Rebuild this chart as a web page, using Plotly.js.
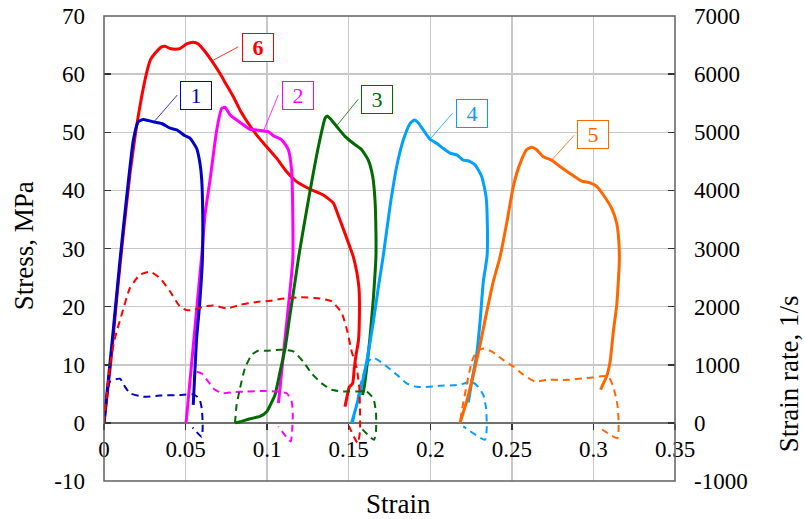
<!DOCTYPE html>
<html>
<head>
<meta charset="utf-8">
<script src="https://cdn.plot.ly/plotly-3.0.1.min.js"></script>
<style>html,body{margin:0;padding:0;background:#fff;}#chart{width:805px;height:519px;}</style>
</head>
<body>
<div id="chart"></div>
<script>
// ---- Data (strain, stress MPa) for solid curves ----
var s1x = [0,0.005,0.0098,0.0139,0.018,0.021,0.0241,0.0302,0.0353,0.0405,0.0446,0.0497,0.0527,0.0568,0.0588,0.0599,0.0605,0.0603,0.0585,0.0568,0.0547];
var s1y = [0,14,28,38.9,48.7,51.8,52.2,51.8,51.5,50.7,50.4,49.4,49.0,47.2,44.7,41.8,36.1,28.0,20,14.6,3.1];

var s2x = [0.0503,0.0598,0.062,0.065,0.0691,0.0721,0.0742,0.0772,0.0813,0.0854,0.0895,0.0936,0.0977,0.1007,0.1038,0.1089,0.113,0.115,0.1157,0.1157,0.111,0.1079,0.1069];
var s2y = [0,28.5,36,41.8,50.4,54.1,54.3,53.0,52.1,51.3,50.5,50.4,50.2,50.1,49.4,48.7,47.0,43.5,36.1,28.0,14.6,6.0,3.4];

var s3x = [0.0803,0.0834,0.0895,0.0956,0.0997,0.1018,0.1048,0.1079,0.111,0.114,0.1171,0.1194,0.1242,0.1283,0.1314,0.1355,0.1369,0.1385,0.1426,0.1477,0.1528,0.158,0.162,0.1647,0.1661,0.1667,0.1667,0.1661,0.1651,0.163,0.161,0.1594,0.1585];
var s3y = [0,0.2,0.7,1.1,1.9,3.0,4.8,8.8,12.8,18.6,24.3,28.7,36.6,43.0,47.5,52.4,52.8,52.4,51.0,49.3,48.1,47.0,45.2,42.4,38.4,32.6,28.7,25.5,21.4,14.6,9.4,6.0,4.8];

var s4x = [0.1518,0.1549,0.158,0.161,0.1651,0.1681,0.1712,0.1753,0.1794,0.1835,0.1876,0.1902,0.1927,0.1957,0.1998,0.2039,0.208,0.2121,0.2162,0.2202,0.2233,0.2274,0.2315,0.2342,0.235,0.2348,0.2325,0.2305,0.2284,0.2254,0.2233];
var s4y = [0,3.1,6.5,10.5,17.4,23.2,28.8,37.2,44.1,48.7,51.5,52.1,51.6,50.4,48.8,48.1,47.2,46.4,46.1,45.2,45.1,44.4,42.4,38.9,33.8,28.7,24.3,17.4,11.7,7.1,3.5];

var s5x = [0.2182,0.2223,0.2264,0.2305,0.2346,0.2386,0.2427,0.2468,0.2509,0.255,0.2591,0.2622,0.2652,0.2693,0.2744,0.2795,0.2856,0.2928,0.2979,0.302,0.3061,0.3112,0.3143,0.3155,0.3159,0.3143,0.3122,0.3102,0.3081,0.3056,0.3044];
var s5y = [0,3.7,8.3,13.4,19.1,24.3,28.5,34.3,40.7,44.6,47.0,47.4,47.0,45.8,45.2,44.1,42.9,41.6,41.3,40.7,39.2,36.9,34.3,31.5,28.0,20.3,15.7,10.5,8.0,6.5,5.7];

var s6x = [0,0.004,0.008,0.012,0.016,0.0196,0.023,0.026,0.0285,0.0313,0.0353,0.0374,0.0405,0.0435,0.0466,0.0507,0.0548,0.0578,0.0619,0.067,0.0711,0.0752,0.0793,0.0834,0.0885,0.0936,0.0997,0.1059,0.112,0.1181,0.1263,0.1344,0.1406,0.1437,0.1477,0.1528,0.1549,0.1563,0.1565,0.1559,0.1545,0.1534,0.1524,0.1504,0.1492,0.1477];
var s6y = [0,10,22,33,43,50.4,56,60.1,62.5,63.6,64.7,64.8,64.4,64.3,64.4,65.2,65.5,65.2,63.9,61.9,60.1,58.1,56.1,53.8,51.5,49.5,47.5,45.5,43.2,41.5,40.2,39.2,37.8,35.6,32.6,28.6,26.0,23.2,17.4,14.0,11.7,9.4,6.8,6.2,4.8,2.8];

// ---- Data (strain, strain rate 1/s) for dashed curves ----
var r1x = [0,0.0037,0.0098,0.0129,0.0159,0.0241,0.0343,0.0466,0.0547,0.0584,0.0599,0.0605,0.0599,0.0543];
var r1y = [0,710,760,620,510,450,470,480,490,420,250,-30,-240,-80];

var r2x = [0.0568,0.0599,0.0639,0.068,0.0731,0.0793,0.0875,0.0977,0.1058,0.112,0.115,0.1157,0.1154,0.1144,0.1069];
var r2y = [880,850,710,570,510,530,540,550,540,510,370,140,-90,-320,-60];

var r3x = [0.0803,0.0813,0.0834,0.0864,0.0905,0.0946,0.0997,0.1079,0.116,0.1222,0.1273,0.1334,0.1396,0.1467,0.1549,0.161,0.1651,0.1667,0.1667,0.1655,0.1569];
var r3y = [0,310,600,940,1170,1240,1240,1260,1230,1050,850,680,570,540,540,540,420,190,-150,-290,-70];

var r4x = [0.1525,0.1539,0.1559,0.158,0.161,0.1641,0.1681,0.1733,0.1794,0.1855,0.1916,0.1988,0.206,0.2162,0.2213,0.2254,0.2294,0.2325,0.2342,0.2346,0.2335,0.2202];
var r4y = [0,170,480,740,1000,1120,1080,970,830,680,620,620,640,650,680,710,620,480,250,-90,-290,-60];

var r5x = [0.2185,0.2192,0.2223,0.2254,0.2284,0.2325,0.2376,0.2448,0.2509,0.257,0.2642,0.2713,0.2836,0.2959,0.304,0.3091,0.3122,0.3147,0.3155,0.3147,0.304];
var r5y = [50,190,650,1050,1230,1280,1230,1080,970,830,710,740,740,770,800,800,620,310,-30,-260,-90];

var r6x = [0,0.0037,0.0067,0.0108,0.0159,0.0221,0.0282,0.0343,0.0405,0.0466,0.0507,0.0548,0.0609,0.067,0.0752,0.0834,0.0936,0.1018,0.1079,0.1201,0.1324,0.1396,0.1457,0.1492,0.1518,0.1549,0.1565,0.1569,0.1569,0.1555,0.150];
var r6y = [0,1000,1460,1860,2320,2550,2600,2490,2260,2000,1940,1940,2000,2020,1970,2030,2080,2100,2130,2160,2140,2090,1890,1570,1230,940,600,250,-150,-350,-50];

// ---- Labels / ticks ----
var curveLabels = ['1','2','3','4','5','6'];
var xTickVals = [0,0.05,0.1,0.15,0.2,0.25,0.3,0.35];
var xTickText = ['0','0.05','0.1','0.15','0.2','0.25','0.3','0.35'];
var yTickVals = [-10,0,10,20,30,40,50,60,70];
var yTickText = ['-10','0','10','20','30','40','50','60','70'];
var y2TickVals = [-1000,0,1000,2000,3000,4000,5000,6000,7000];
var y2TickText = ['-1000','0','1000','2000','3000','4000','5000','6000','7000'];

var colors = ['#0000C8','#FF00FF','#006B00','#00A0FF','#FF6600','#FF0000'];

var solidX = [s1x,s2x,s3x,s4x,s5x,s6x];
var solidY = [s1y,s2y,s3y,s4y,s5y,s6y];
var rateX = [r1x,r2x,r3x,r4x,r5x,r6x];
var rateY = [r1y,r2y,r3y,r4y,r5y,r6y];

var traces = [];
for (var i = 0; i < 6; i++) {
  traces.push({x: rateX[i], y: rateY[i], yaxis: 'y2', mode: 'lines', type: 'scatter',
    line: {color: colors[i], width: 2, dash: '7px,5px', shape: 'spline', smoothing: 0.5},
    hoverinfo: 'skip', showlegend: false});
}
var solidOrder = [5,1,2,3,4,0];
solidOrder.forEach(function(i){
  traces.push({x: solidX[i], y: solidY[i], mode: 'lines', type: 'scatter',
    line: {color: colors[i], width: 3, shape: 'spline', smoothing: 0.5},
    hoverinfo: 'skip', showlegend: false});
});

// label box positions (centre) and leader line (tip on curve -> box edge)
var boxPos = [[0.0566,56.4],[0.1187,56.4],[0.1675,55.6],[0.2253,53.3],[0.2997,49.6],[0.0946,64.6]];
var leaders = [[0.0313,52.0,0.0449,56.4],[0.0976,50.1,0.1068,56.4],[0.1426,51.1,0.1559,55.7],[0.1998,48.8,0.2137,53.3],[0.275,45.4,0.2883,49.5],[0.067,62.4,0.0823,64.7]];

var F = 'Liberation Serif, Times New Roman, serif';
var annotations = [];
var shapes = [];
for (var k = 0; k < 6; k++) {
  annotations.push({x: boxPos[k][0], y: boxPos[k][1], xref: 'x', yref: 'y', text: (k===5 ? '<b>'+curveLabels[k]+'</b>' : curveLabels[k]),
    showarrow: false, bordercolor: colors[k], borderwidth: 1, bgcolor: '#ffffff', width: 28, height: 25,
    font: {family: F, size: 22, color: colors[k]}, xanchor: 'center', yanchor: 'middle'});
  shapes.push({type: 'line', xref: 'x', yref: 'y', x0: leaders[k][0], y0: leaders[k][1], x1: leaders[k][2], y1: leaders[k][3],
    line: {color: colors[k], width: 1}, opacity: 0.8});
}
shapes.push({type: 'rect', xref: 'paper', yref: 'paper', x0: 0, x1: 1, y0: 0, y1: 1, line: {color: '#606060', width: 1.5}, layer: 'above'});

annotations.push({xref: 'paper', yref: 'paper', x: -0.140, y: 0.505, text: 'Stress, MPa', textangle: -90, showarrow: false,
  font: {family: F, size: 27, color: '#000'}, xanchor: 'center', yanchor: 'middle'});
annotations.push({xref: 'paper', yref: 'paper', x: 1.2, y: 0.230, text: 'Strain rate, 1/s', textangle: -90, showarrow: false,
  font: {family: F, size: 27, color: '#000'}, xanchor: 'center', yanchor: 'middle'});
annotations.push({xref: 'paper', yref: 'paper', x: 0.5166, y: -0.050, text: 'Strain', showarrow: false,
  font: {family: F, size: 27, color: '#000'}, xanchor: 'center', yanchor: 'middle'});

var layout = {
  width: 805, height: 519,
  margin: {l: 104, r: 130, t: 16, b: 38, pad: 0},
  paper_bgcolor: '#ffffff', plot_bgcolor: '#ffffff',
  showlegend: false,
  font: {family: F, size: 23, color: '#000'},
  xaxis: {range: [0, 0.35], tickvals: xTickVals, ticktext: xTickText, anchor: 'free', position: 0.125,
    showgrid: true, gridcolor: '#C8C8C8', gridwidth: 1.5, zeroline: false, showline: false,
    ticks: 'outside', ticklen: 6, tickcolor: '#333', tickwidth: 1.5, tickfont: {family: F, size: 23, color: '#000'}},
  yaxis: {range: [-10, 70], tickvals: yTickVals, ticktext: yTickText, showgrid: true, gridcolor: '#C8C8C8', gridwidth: 1.5,
    zeroline: true, zerolinecolor: '#707070', zerolinewidth: 2, showline: false,
    ticks: 'inside', ticklen: 7, tickcolor: '#333', tickwidth: 1.5, ticklabelstandoff: 18,
    tickfont: {family: F, size: 23, color: '#000'}},
  yaxis2: {range: [-1000, 7000], tickvals: y2TickVals, ticktext: y2TickText, overlaying: 'y', side: 'right', showgrid: false, zeroline: false,
    showline: false, ticks: 'inside', ticklen: 7, tickcolor: '#333', tickwidth: 1.5, ticklabelstandoff: 18,
    tickfont: {family: F, size: 23, color: '#000'}},
  annotations: annotations,
  shapes: shapes
};

Plotly.newPlot('chart', traces, layout, {staticPlot: true, displayModeBar: false});
</script>
</body>
</html>
